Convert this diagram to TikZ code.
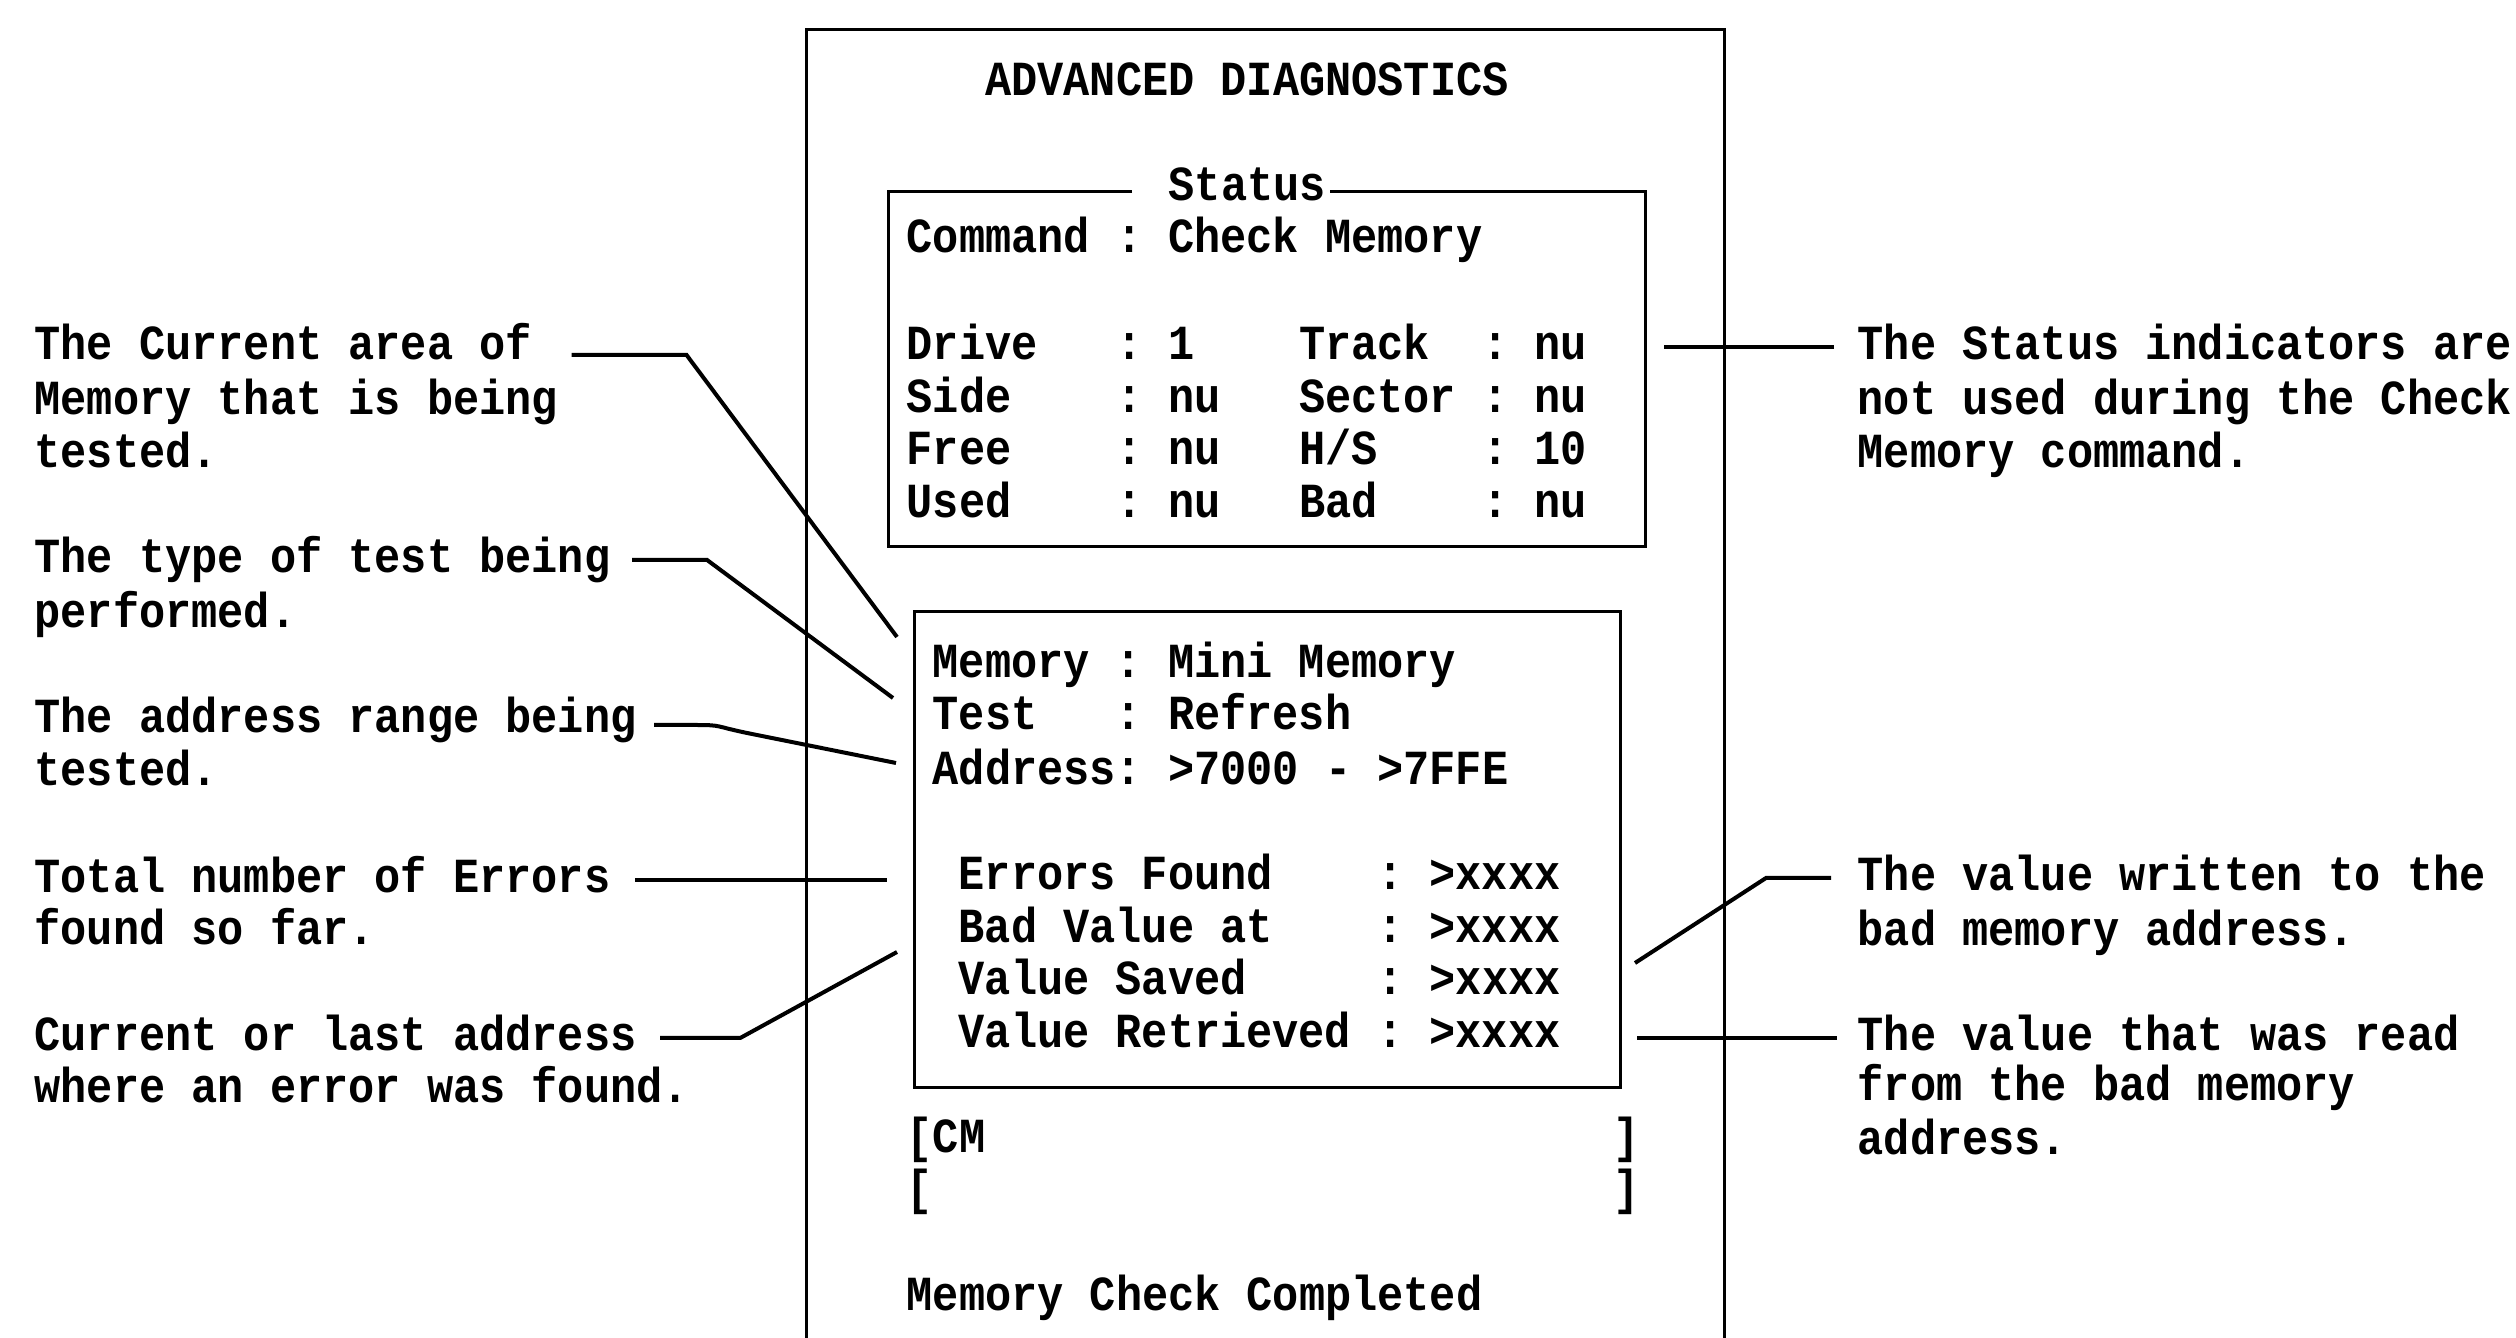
\documentclass[tikz,border=0pt]{standalone}
\usepackage{fontspec}
\setmainfont{Liberation Mono}[FakeStretch=0.89]
\usetikzlibrary{calc}
\tikzset{
  scr/.style={anchor=base west, inner sep=0pt, font=\fontsize{14.7}{16}\selectfont\bfseries},
  box/.style={line width=0.9pt},
  lead/.style={line width=1.2pt},
}
\begin{document}
\begin{tikzpicture}[x=0.3pt,y=-0.3pt]
\useasboundingbox (0,0) rectangle (2516,1338);
\fill[white] (0,0) rectangle (2516,1338);
% outer screen
\draw[box] (806,1338) -- (806,30) -- (1724,30) -- (1724,1338);
\node[scr,anchor=base] (title) at (1247,96) {ADVANCED~DIAGNOSTICS};
% status box
\draw[box] (1132,192) -- (888,192) -- (888,547) -- (1645,547) -- (1645,192) -- (1330,192);
\node[scr] (stlabel) at (1168,201) {Status};
\node[scr] (s0) at (906,253) {Command~:~Check~Memory};
\node[scr] (s1) at (906,360) {Drive~~~:~1~~~~Track~~:~nu};
\node[scr] (s2) at (906,413) {Side~~~~:~nu~~~Sector~:~nu};
\node[scr] (s3) at (906,465) {Free~~~~:~nu~~~H/S~~~~:~10};
\node[scr] (s4) at (906,518) {Used~~~~:~nu~~~Bad~~~~:~nu};
% memory box
\draw[box] (914,612) rectangle (1620,1088);
\node[scr] (m0) at (932,678) {Memory~:~Mini~Memory};
\node[scr] (m1) at (932,730) {Test~~~:~Refresh};
\node[scr] (m2) at (932,785) {Address:~>7000~-~>7FFE};
\node[scr] (m3) at (958,890) {Errors~Found~~~~:~>xxxx};
\node[scr] (m4) at (958,943) {Bad~Value~at~~~~:~>xxxx};
\node[scr] (m5) at (958,995) {Value~Saved~~~~~:~>xxxx};
\node[scr] (m6) at (958,1048) {Value~Retrieved~:~>xxxx};
% command lines
\node[scr] (b0) at (906,1153) {[CM~~~~~~~~~~~~~~~~~~~~~~~~]};
\node[scr] (b1) at (906,1205) {[~~~~~~~~~~~~~~~~~~~~~~~~~~]};
\node[scr] (msg) at (906,1310) {Memory~Check~Completed};
% left annotations
\node[scr] (a1) at (34,360) {The~Current~area~of};
\node[scr] (a1b) at (34,415) {Memory~that~is~being};
\node[scr] (a1c) at (34,468) {tested.};
\node[scr] (a2) at (34,573) {The~type~of~test~being};
\node[scr] (a2b) at (34,628) {performed.};
\node[scr] (a3) at (34,733) {The~address~range~being};
\node[scr] (a3b) at (34,786) {tested.};
\node[scr] (a4) at (34,893) {Total~number~of~Errors};
\node[scr] (a4b) at (34,945) {found~so~far.};
\node[scr] (a5) at (34,1051) {Current~or~last~address};
\node[scr] (a5b) at (34,1103) {where~an~error~was~found.};
% right annotations
\node[scr] (r1) at (1857,360) {The~Status~indicators~are};
\node[scr] (r1b) at (1857,415) {not~used~during~the~Check};
\node[scr] (r1c) at (1857,468) {Memory~command.};
\node[scr] (r2) at (1857,891) {The~value~written~to~the};
\node[scr] (r2b) at (1857,946) {bad~memory~address.};
\node[scr] (r3) at (1857,1051) {The~value~that~was~read};
\node[scr] (r3b) at (1857,1101) {from~the~bad~memory};
\node[scr] (r3c) at (1857,1155) {address.};
% target points
\coordinate (e1) at (897,637);
\coordinate (e2) at (893,698);
\coordinate (e3) at (896,763);
\coordinate (e4) at (887,880);
\coordinate (e5) at (897,952);
\coordinate (f1) at (1664,347);
\coordinate (f2) at (1635,963);
\coordinate (f3) at (1637,1038);
% leaders
\draw[lead] ($(a1.base east)+(39,-5)$) -- ++(115,0) -- (e1);
\draw[lead] ($(a2.base east)+(21,-13)$) -- ++(75,0) -- (e2);
\draw[lead] ($(a3.base east)+(17,-8)$) -- ++(40,0) .. controls ++(30,0) and ++(-40,-8) .. (752,734) -- (e3);
\draw[lead] ($(a4.base east)+(24,-13)$) -- (e4);
\draw[lead] ($(a5.base east)+(23,-13)$) -- ++(80,0) -- (e5);
\draw[lead] ($(r1.base west)+(-23,-13)$) -- (f1);
\draw[lead] ($(r2.base west)+(-26,-13)$) -- ++(-65,0) -- (f2);
\draw[lead] ($(r3.base west)+(-20,-13)$) -- (f3);
\end{tikzpicture}
\end{document}
